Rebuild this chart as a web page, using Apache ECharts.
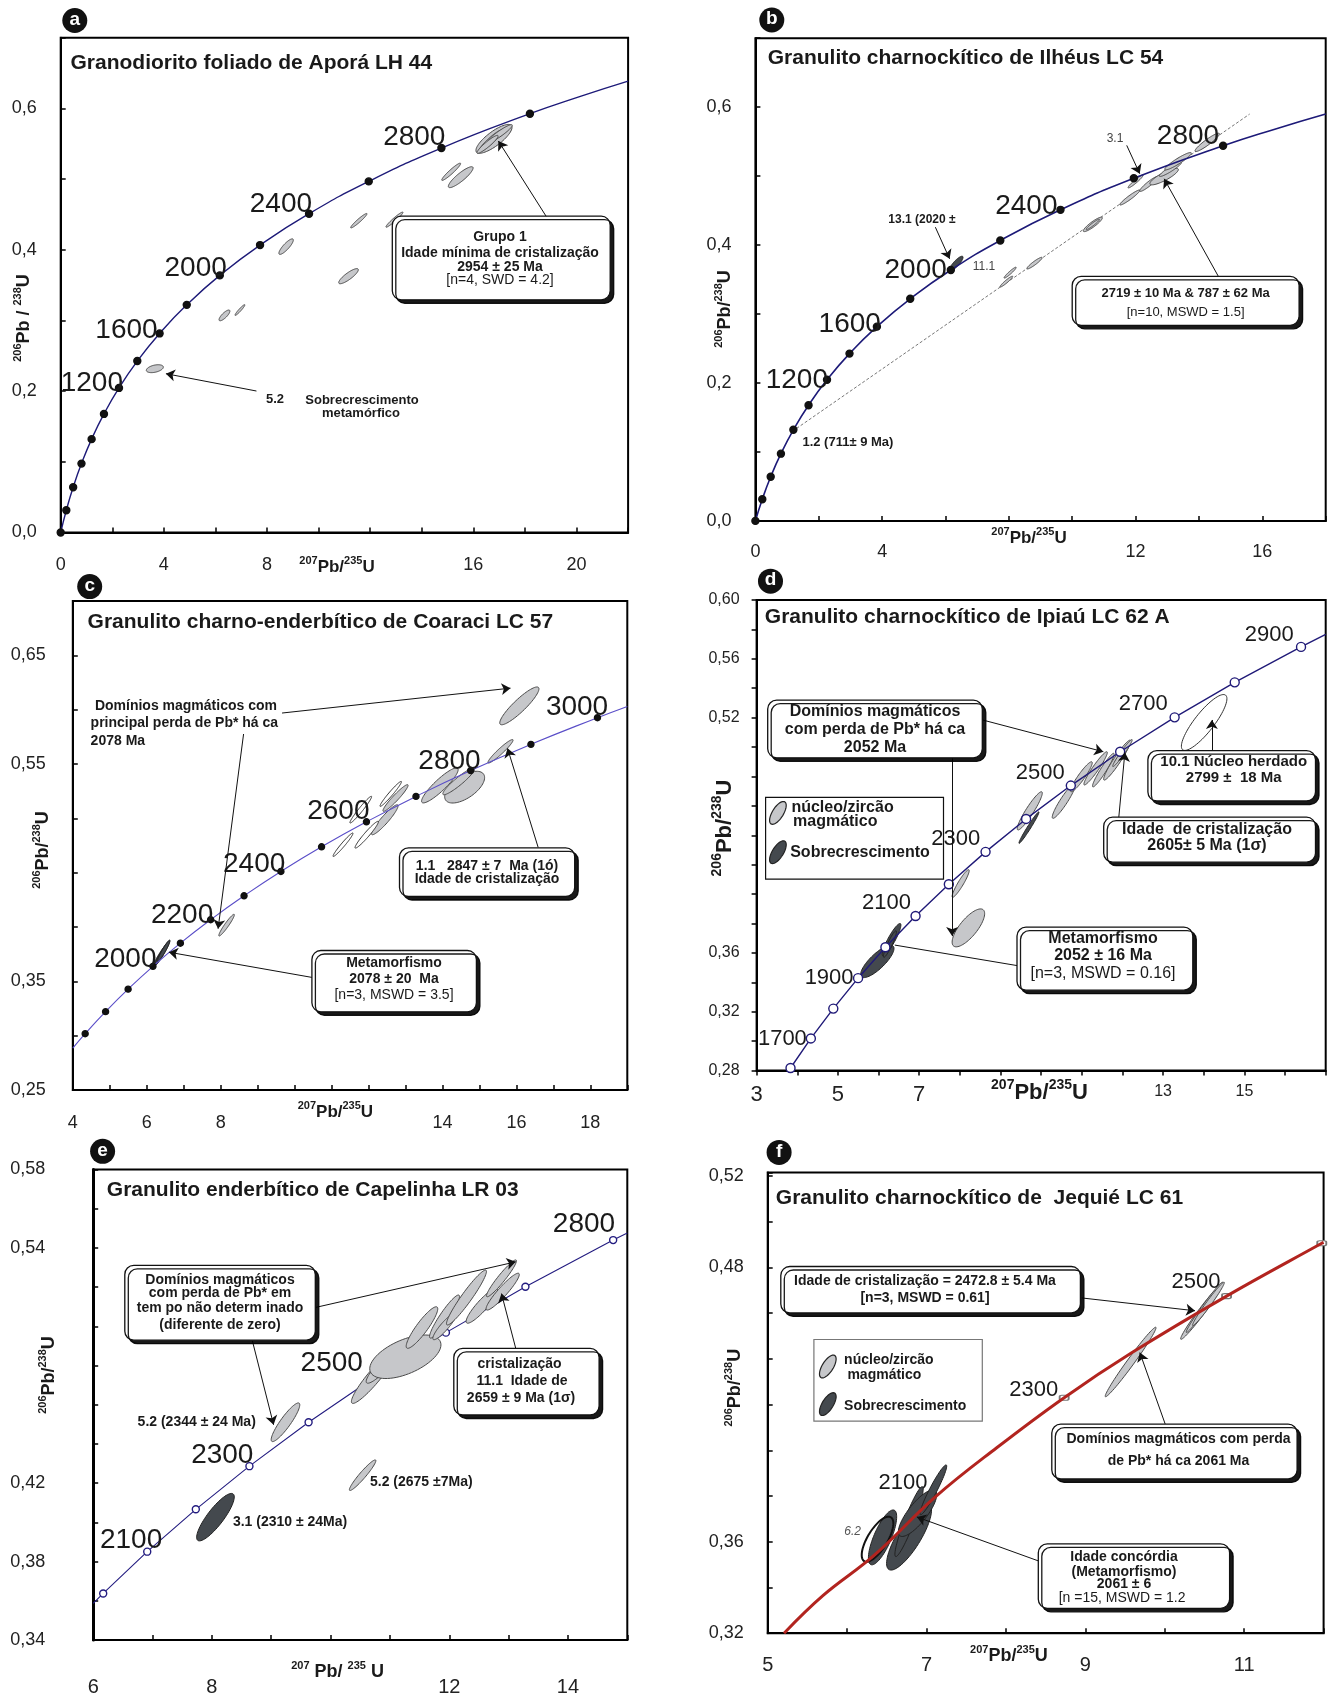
<!DOCTYPE html>
<html>
<head>
<meta charset="utf-8">
<title>Diagramas concórdia U-Pb</title>
<script src="https://cdn.jsdelivr.net/npm/echarts@6/dist/echarts.min.js"></script>
<style>
  html, body { margin: 0; padding: 0; background: #fff; }
  #chart { width: 1331px; height: 1697px; }
</style>
</head>
<body>
<div id="chart"></div>
<script>
const FONT = '"Liberation Sans", Arial, Helvetica, sans-serif';

// ---------------- data ----------------
// concordia marks: [207Pb/235U, 206Pb/238U] at the ages drawn on each diagram
// ellipses: [207Pb/235U, 206Pb/238U, half range x, half range y, rho]

// a - Granodiorito foliado de Aporá LH 44
const ageA = [0, 200, 400, 600, 800, 1000, 1200, 1400, 1600, 1800, 2000, 2200, 2400, 2600, 2800, 3000];
const markA = [[0, 0], [0.2177, 0.0315], [0.4828, 0.0640], [0.8056, 0.0975], [1.1987, 0.1321], [1.6774, 0.1678], [2.2603, 0.2046], [2.9701, 0.2426], [3.8345, 0.2817], [4.8869, 0.3221], [6.1685, 0.3638], [7.7292, 0.4067], [9.6295, 0.4511], [11.9436, 0.4968], [14.7617, 0.5440], [18.1931, 0.5926]];
const extA = [[20.1795, 0.6175], [22.0, 0.6387]];
const namedA = [1200, 1600, 2000, 2400, 2800];
const grainsA = [[16.80, 0.557, 0.70, 0.0204, 0.80], [16.67, 0.5543, 0.456, 0.0153, 0.93], [17.03, 0.5644, 0.48, 0.0127, 0.93], [16.55, 0.5492, 0.41, 0.0127, 0.93],
  [15.14, 0.5104, 0.365, 0.0122, 0.95], [15.51, 0.5028, 0.48, 0.0148, 0.88], [11.56, 0.4412, 0.315, 0.0102, 0.955], [12.94, 0.4427, 0.33, 0.0107, 0.96],
  [8.74, 0.4045, 0.28, 0.011, 0.85], [11.16, 0.3627, 0.38, 0.0107, 0.85], [6.35, 0.3072, 0.21, 0.0076, 0.8], [6.95, 0.3148, 0.19, 0.0076, 0.95], [3.65, 0.2318, 0.33, 0.0056, 0.4]];

// b - Granulito charnockítico de Ilhéus LC 54
const ageB = [0, 200, 400, 600, 800, 1000, 1200, 1400, 1600, 1800, 2000, 2200, 2400, 2600, 2800];
const markB = [[0, 0], [0.2177, 0.0315], [0.4828, 0.0640], [0.8056, 0.0975], [1.1987, 0.1321], [1.6774, 0.1678], [2.2603, 0.2046], [2.9701, 0.2426], [3.8345, 0.2817], [4.8869, 0.3221], [6.1685, 0.3638], [7.7292, 0.4067], [9.6295, 0.4511], [11.9436, 0.4968], [14.7617, 0.5440]];
const extB = [[16.393, 0.5681], [18.0, 0.5901]];
const namedB = [1200, 1600, 2000, 2400, 2800];
const discordB = [[1.17, 0.130], [15.6, 0.590]];
const grainsB = [[7.92, 0.347, 0.20, 0.0079, 0.95], [8.04, 0.360, 0.19, 0.0079, 0.95], [8.81, 0.3738, 0.24, 0.0084, 0.93], [10.65, 0.430, 0.30, 0.0105, 0.9], [10.65, 0.430, 0.21, 0.0075, 0.95],
  [11.82, 0.469, 0.316, 0.0109, 0.95], [12.0, 0.4923, 0.237, 0.0094, 0.95], [12.42, 0.4887, 0.29, 0.0109, 0.93], [12.90, 0.4993, 0.45, 0.012, 0.85], [13.10, 0.510, 0.35, 0.0105, 0.93],
  [13.34, 0.5216, 0.42, 0.0126, 0.93], [14.26, 0.5489, 0.385, 0.0133, 0.93]];
const rimB = [[6.34, 0.3733, 0.213, 0.0105, 0.85]];

// c - Granulito charno-enderbítico de Coaraci LC 57
const ageC = [1700, 1800, 1900, 2000, 2100, 2200, 2300, 2400, 2500, 2600, 2700, 2800, 2900, 3000];
const markC = [[4.3348, 0.3018], [4.8869, 0.3221], [5.4962, 0.3428], [6.1685, 0.3638], [6.9105, 0.3851], [7.7292, 0.4067], [8.6326, 0.4287], [9.6295, 0.4511], [10.7296, 0.4738], [11.9436, 0.4968], [13.2833, 0.5202], [14.7617, 0.5440], [16.393, 0.5681], [18.1931, 0.5926]];
const extC = [[4.0, 0.2885], [19.0, 0.6030]];
const namedC = [2000, 2200, 2400, 2600, 2800, 3000];
const grainsC = [[8.16, 0.4017, 0.21, 0.010, 0.95], [12.44, 0.4987, 0.36, 0.0138, 0.93], [12.73, 0.5187, 0.34, 0.0123, 0.95], [13.93, 0.5303, 0.495, 0.0161, 0.9],
  [14.60, 0.5287, 0.54, 0.0146, 0.6], [14.44, 0.534, 0.43, 0.0123, 0.93], [15.57, 0.5617, 0.34, 0.0108, 0.95], [16.08, 0.6035, 0.53, 0.0174, 0.9]];
const openC = [[11.31, 0.4757, 0.27, 0.0108, 0.97], [11.79, 0.508, 0.293, 0.0123, 0.97], [11.95, 0.4849, 0.315, 0.0123, 0.96], [12.60, 0.5225, 0.29, 0.0115, 0.97]];
const rimC = [[6.36, 0.3735, 0.2, 0.011, 0.96], [6.42, 0.376, 0.2, 0.0115, 0.96], [6.46, 0.378, 0.17, 0.010, 0.95]];

// d - Granulito charnockítico de Ipiaú LC 62 A
const ageD = [1600, 1700, 1800, 1900, 2000, 2100, 2200, 2300, 2400, 2500, 2600, 2700, 2800, 2900];
const markD = [[3.8345, 0.2817], [4.3348, 0.3018], [4.8869, 0.3221], [5.4962, 0.3428], [6.1685, 0.3638], [6.9105, 0.3851], [7.7292, 0.4067], [8.6326, 0.4287], [9.6295, 0.4511], [10.7296, 0.4738], [11.9436, 0.4968], [13.2833, 0.5202], [14.7617, 0.5440], [16.393, 0.5681]];
const extD = [[17.0, 0.5766]];
const namedD = [1700, 1900, 2100, 2300, 2500, 2700, 2900];
const grainsD = [[8.02, 0.4072, 0.21, 0.0094, 0.93], [8.21, 0.377, 0.40, 0.0129, 0.75], [9.72, 0.4566, 0.308, 0.013, 0.93], [10.56, 0.4634, 0.287, 0.0119, 0.93],
  [10.99, 0.4798, 0.267, 0.0102, 0.93], [11.34, 0.4855, 0.288, 0.0113, 0.95], [11.53, 0.4843, 0.266, 0.0114, 0.95], [11.87, 0.4911, 0.333, 0.0136, 0.95], [12.0, 0.4959, 0.24, 0.0092, 0.97]];
const rimD = [[5.97, 0.3542, 0.41, 0.011, 0.8], [6.32, 0.369, 0.23, 0.011, 0.9], [6.28, 0.366, 0.16, 0.009, 0.92], [9.70, 0.4452, 0.246, 0.0107, 0.98]];
const openD = [[14.01, 0.5167, 0.56, 0.019, 0.85]];

// e - Granulito enderbítico de Capelinha LR 03
const ageE = [2000, 2100, 2200, 2300, 2400, 2500, 2600, 2700, 2800];
const markE = [[6.1685, 0.3638], [6.9105, 0.3851], [7.7292, 0.4067], [8.6326, 0.4287], [9.6295, 0.4511], [10.7296, 0.4738], [11.9436, 0.4968], [13.2833, 0.5202], [14.7617, 0.5440]];
const extE = [[6.0, 0.3587], [15.0, 0.5476]];
const namedE = [2100, 2300, 2500, 2800];
const grainsE = [[9.24, 0.4511, 0.241, 0.00986, 0.9], [10.54, 0.4241, 0.223, 0.0078, 0.95], [10.73, 0.4743, 0.379, 0.0136, 0.93], [10.88, 0.4799, 0.28, 0.0089, 0.9],
  [11.26, 0.4845, 0.60, 0.0111, 0.55], [11.54, 0.4994, 0.266, 0.0106, 0.9], [11.92, 0.505, 0.2525, 0.011, 0.93], [11.92, 0.500, 0.197, 0.0068, 0.9],
  [12.29, 0.5147, 0.337, 0.014, 0.95], [12.55, 0.5105, 0.266, 0.0089, 0.9], [12.90, 0.5177, 0.28, 0.0094, 0.93], [12.88, 0.5245, 0.2525, 0.0094, 0.95]];
const rimE = [[8.06, 0.4027, 0.317, 0.0121, 0.85]];

// f - Granulito charnockítico de Jequié LC 61
const ageF = [2100, 2300, 2500, 2600];
const markF = [[7.0, 0.376], [8.733, 0.423], [10.778, 0.4674], [11.977, 0.4905]];
const traceF = [[5.206, 0.32], [5.695, 0.3364], [6.339, 0.354], [7.111, 0.3796], [7.884, 0.4011], [8.733, 0.423], [9.583, 0.4426], [10.778, 0.4674], [11.977, 0.4905], [12.0, 0.4909]];
const namedF = [2100, 2300, 2500];
const grainsF = [[9.57, 0.4386, 0.32, 0.0152, 0.985], [10.46, 0.4605, 0.26, 0.012, 0.98], [10.50, 0.4625, 0.23, 0.011, 0.985], [10.55, 0.464, 0.20, 0.0095, 0.98]];
const rimF = [[6.78, 0.3622, 0.283, 0.0146, 0.8], [6.446, 0.3619, 0.178, 0.012, 0.75], [6.78, 0.3688, 0.178, 0.0153, 0.93], [6.887, 0.3725, 0.242, 0.0102, 0.8], [7.086, 0.3827, 0.168, 0.0109, 0.95]];
const openF = [[6.383, 0.3611, 0.199, 0.00985, 0.7]];

// ---------------- layout ----------------
const panels = [
  { grid: { left: 60.7, top: 37.8, width: 567.4, height: 494.7 },
    x: { min: 0, max: 22, interval: 2, show: [0, 4, 8, 16, 20], dec: 0, margin: 24, size: 18 },
    y: { min: 0, max: 0.7, interval: 0.1, show: [0, 0.2, 0.4, 0.6], dec: 1, margin: 24, size: 18 },
    ages: ageA, marks: markA, curve: markA.concat(extA), named: namedA, smooth: 0.5,
    off: { 1200: [4, -5], 1600: [-2, -3], 2000: [7, -7], 2400: [3, -9], 2800: [4, -11] },
    lc: '#1d1a78', lw: 1.4, ageSize: 28, mk: { symbol: 'circle', size: 7, fill: '#111', stroke: '#111' },
    light: grainsA, dark: [], open: [], lineZ: 3, markZ: 4,
    arrows: [[[18.87, 0.4447], [16.97, 0.554]], [[7.59, 0.2002], [4.08, 0.2247]]], plain: [] },
  { grid: { left: 755.4, top: 38.2, width: 570.3, height: 482.7 },
    x: { min: 0, max: 18, interval: 2, show: [0, 4, 12, 16], dec: 0, margin: 22, size: 18 },
    y: { min: 0, max: 0.7, interval: 0.1, show: [0, 0.2, 0.4, 0.6], dec: 1, margin: 24, size: 18 },
    ages: ageB, marks: markB, curve: markB.concat(extB), named: namedB, smooth: 0.5,
    off: { 1200: [1, 0], 1600: [4, -2], 2000: [-4, 0], 2400: [-3, -4], 2800: [-4, -9] },
    lc: '#1d1a78', lw: 1.6, ageSize: 28, mk: { symbol: 'circle', size: 7, fill: '#111', stroke: '#111' },
    light: grainsB, dark: rimB, open: [], lineZ: 3, markZ: 4,
    arrows: [[[5.68, 0.4259], [6.13, 0.38]], [[11.72, 0.5446], [12.13, 0.5035]], [[14.61, 0.3548], [12.9, 0.4961]]], plain: [] },
  { grid: { left: 72.8, top: 601, width: 554.5, height: 489 },
    x: { min: 4, max: 19, interval: 1, show: [4, 6, 8, 14, 16, 18], dec: 0, margin: 24, size: 18 },
    y: { min: 0.25, max: 0.70, interval: 0.05, show: [0.25, 0.35, 0.55, 0.65], dec: 2, margin: 27, size: 18 },
    ages: ageC, marks: markC, curve: [extC[0]].concat(markC, [extC[1]]), named: namedC, smooth: 0.5,
    off: { 2000: [3.5, -6.6], 2200: [2.6, -4.7], 2400: [4.4, -7], 2600: [3, -10.8], 2800: [10, -9.3], 3000: [10.7, -10.8] },
    lc: '#5a4ec8', lw: 1.1, ageSize: 28, mk: { symbol: 'circle', size: 6, fill: '#111', stroke: '#111' },
    light: grainsC, dark: rimC, open: openC, lineZ: 3, markZ: 4,
    arrows: [[[9.66, 0.5969], [15.84, 0.6198]], [[8.62, 0.5776], [7.93, 0.3984]], [[16.59, 0.4731], [15.76, 0.5644]], [[10.47, 0.3536], [6.60, 0.3768]]], plain: [] },
  { grid: { left: 756.6, top: 600, width: 569.1, height: 470.5 },
    x: { min: 3, max: 17, interval: 1, show: [3, 5, 7, 13, 15], dec: 0, margin: 13, size: 22, small: [13, 15] },
    y: { min: 0.28, max: 0.60, interval: 0.02, show: [0.28, 0.32, 0.36, 0.52, 0.56, 0.60], dec: 2, margin: 17, size: 16 },
    ticksOut: true,
    ages: ageD, marks: markD, curve: markD.concat(extD), named: namedD, smooth: false,
    off: { 1700: [-4, 0], 1900: [-4.5, 0], 2100: [-4.5, -13.3], 2300: [-5.4, -13.3], 2500: [-6, -12.2], 2700: [-7, -13], 2900: [-7.4, -11.5] },
    lc: '#201a78', lw: 1.4, ageSize: 22, mk: { symbol: 'circle', size: 9, fill: '#fff', stroke: '#201a78' },
    light: grainsD, dark: rimD, open: openD, lineZ: 3, markZ: 4,
    arrows: [[[8.56, 0.5184], [11.53, 0.4968]], [[7.81, 0.4927], [7.81, 0.3714]], [[14.2, 0.4976], [14.2, 0.5184]], [[11.91, 0.4522], [12.06, 0.4963]]],
    plain: [[[9.42, 0.3513], [6.40, 0.3653]]] },
  { grid: { left: 93.2, top: 1169.5, width: 534.1, height: 470.6 },
    x: { min: 6, max: 15, interval: 1, show: [6, 8, 12, 14], dec: 0, margin: 37, size: 20 },
    y: { min: 0.34, max: 0.58, interval: 0.02, show: [0.34, 0.38, 0.42, 0.54, 0.58], dec: 2, margin: 48, size: 18 },
    axisW: 3,
    ages: ageE, marks: markE, curve: [extE[0]].concat(markE, [extE[1]]), named: namedE, smooth: false,
    off: { 2100: [15, -11], 2300: [4, -11], 2500: [-11, -14], 2800: [2, -16] },
    lc: '#231c80', lw: 1.1, ageSize: 28, mk: { symbol: 'circle', size: 7, fill: '#fff', stroke: '#231c80' },
    light: grainsE, dark: rimE, open: [], lineZ: 1, markZ: 1,
    arrows: [[[9.74, 0.5096], [13.12, 0.5329]], [[8.68, 0.4929], [9.04, 0.4498]], [[13.12, 0.4888], [12.88, 0.5167]]], plain: [] },
  { grid: { left: 767.7, top: 1172.4, width: 555.9, height: 460.8 },
    x: { min: 5, max: 12, interval: 1, show: [5, 7, 9, 11], dec: 0, margin: 22, size: 20 },
    y: { min: 0.32, max: 0.5215, interval: 0.02, show: [0.32, 0.36, 0.48, 0.52], dec: 2, margin: 24, size: 18 },
    ages: ageF, marks: markF, curve: traceF, named: namedF, smooth: 0.4,
    off: { 2100: [1, -22], 2300: [-6, -8], 2500: [-6, -14] },
    lc: '#b2241f', lw: 3, ageSize: 22, mk: { symbol: 'roundRect', size: [9, 5], fill: '#fff', stroke: '#777' },
    light: grainsF, dark: rimF, open: [], blackOpen: openF, lineZ: 3, markZ: 1,
    arrows: [[[8.955, 0.4666], [10.381, 0.4610]], [[10.005, 0.4115], [9.686, 0.4427]], [[8.409, 0.3516], [6.879, 0.3708]]], plain: [] }
];

// ---------------- helpers ----------------
function labeler(show, dec, small) {
  return function (v) {
    const r = Math.round(v * 1000) / 1000;
    if (!show.some(s => Math.abs(s - r) < 1e-6)) return '';
    const s = r.toFixed(dec).replace('.', ',');
    if (small) return small.some(q => Math.abs(q - r) < 1e-6) ? '{s|' + s + '}' : '{b|' + s + '}';
    return s;
  };
}

function ellipseRender(fill, stroke, lw) {
  return function (params, api) {
    const cx = api.value(0), cy = api.value(1), hx = api.value(2), hy = api.value(3), r = api.value(4);
    const s = Math.sqrt(1 - r * r);
    const pts = [];
    for (let k = 0; k < 72; k++) {
      const t = k / 72 * Math.PI * 2;
      const u = Math.cos(t), v = Math.sin(t);
      pts.push(api.coord([cx + hx * u, cy + hy * (r * u + s * v)]));
    }
    return { type: 'polygon', shape: { points: pts }, style: { fill: fill, stroke: stroke, lineWidth: lw } };
  };
}

const grids = [], xAxes = [], yAxes = [], series = [];

panels.forEach(function (p, i) {
  const aw = p.axisW || 2;
  grids.push(Object.assign({ show: true, borderColor: '#000', borderWidth: 2, containLabel: false, outerBoundsMode: 'none' }, p.grid));
  const xl = { formatter: labeler(p.x.show, p.x.dec, p.x.small), margin: p.x.margin, color: '#222', fontSize: p.x.size, fontFamily: FONT, showMinLabel: true, showMaxLabel: true };
  if (p.x.small) xl.rich = { b: { fontSize: 22, fontFamily: FONT, color: '#222' }, s: { fontSize: 16, fontFamily: FONT, color: '#222' } };
  xAxes.push({ type: 'value', gridIndex: i, min: p.x.min, max: p.x.max, interval: p.x.interval,
    axisLine: { show: true, onZero: false, lineStyle: { color: '#000', width: 2 } },
    axisTick: { show: true, inside: !p.ticksOut, length: 5, lineStyle: { color: '#000', width: 1.5 } },
    axisLabel: xl, splitLine: { show: false } });
  yAxes.push({ type: 'value', gridIndex: i, min: p.y.min, max: p.y.max, interval: p.y.interval,
    axisLine: { show: true, onZero: false, lineStyle: { color: '#000', width: aw } },
    axisTick: { show: true, inside: !p.ticksOut, length: 5, lineStyle: { color: '#000', width: 1.5 } },
    axisLabel: { formatter: labeler(p.y.show, p.y.dec), margin: p.y.margin, color: '#222', fontSize: p.y.size, fontFamily: FONT, showMinLabel: true, showMaxLabel: true },
    splitLine: { show: false } });

  const ml = p.arrows.map(a => [{ coord: a[0], symbol: 'none' }, { coord: a[1], symbol: 'arrow' }])
    .concat(p.plain.map(a => [{ coord: a[0], symbol: 'none' }, { coord: a[1], symbol: 'none' }]));

  series.push({ type: 'line', xAxisIndex: i, yAxisIndex: i, data: p.curve, showSymbol: false, symbol: 'none',
    smooth: p.smooth, lineStyle: { color: p.lc, width: p.lw }, z: p.lineZ, silent: true,
    markLine: { silent: true, symbol: ['none', 'arrow'], symbolSize: 9, label: { show: false },
      lineStyle: { color: '#111', width: 1, type: 'solid' }, emphasis: { disabled: true }, data: ml } });

  if (i === 1) {
    series.push({ type: 'line', xAxisIndex: i, yAxisIndex: i, data: discordB, showSymbol: false, symbol: 'none',
      lineStyle: { color: '#777', width: 1, type: [3, 2] }, z: 1, silent: true });
  }

  const groups = [[p.light, '#c6c7ca', '#4a4a4a', 1], [p.open, '#ffffff', '#333', 1], [p.dark, '#44494e', '#222', 1]];
  if (p.blackOpen) groups.push([p.blackOpen, 'rgba(0,0,0,0)', '#111', 2]);
  groups.forEach(function (g) {
    if (!g[0].length) return;
    series.push({ type: 'custom', xAxisIndex: i, yAxisIndex: i, data: g[0], clip: false, silent: true, z: 2,
      renderItem: ellipseRender(g[1], g[2], g[3]) });
  });

  series.push({ type: 'scatter', xAxisIndex: i, yAxisIndex: i, z: p.markZ, silent: true,
    symbol: p.mk.symbol, symbolSize: p.mk.size,
    itemStyle: { color: p.mk.fill, borderColor: p.mk.stroke, borderWidth: 1.4, opacity: 1 },
    label: { show: false, position: 'inside', align: 'right', verticalAlign: 'middle', fontSize: p.ageSize, color: '#1a1a1a', fontFamily: FONT },
    data: p.ages.map(function (t, k) {
      const named = p.named.indexOf(t) >= 0;
      return { value: p.marks[k], label: named ? { show: true, formatter: String(t), offset: p.off[t] } : { show: false } };
    }) });
});

// ---------------- annotations ----------------
const G = [];
function T(x, y, text, size, o) {
  o = o || {};
  const al = o.align || 'center';
  G.push({ type: 'text', x: x, y: y, z: 100, silent: true,
    style: { text: text, fill: o.color || '#1a1a1a',
      font: (o.italic ? 'italic ' : '') + (o.normal ? 'normal ' : 'bold ') + size + 'px ' + FONT,
      align: al, verticalAlign: 'middle', textAlign: al, textVerticalAlign: 'middle' } });
}
function iso(x, y, parts, size, vertical) {
  let text = '';
  parts.forEach(function (q) { text += '{s|' + q[0] + '}{m|' + q[1] + '}'; });
  G.push({ type: 'text', x: x, y: y, z: 100, silent: true, rotation: vertical ? Math.PI / 2 : 0,
    style: { text: text, align: 'center', verticalAlign: 'middle', textAlign: 'center', textVerticalAlign: 'middle',
      rich: { s: { fontSize: Math.round(size * 0.62), fontWeight: 'bold', fontFamily: FONT, fill: '#1a1a1a', verticalAlign: 'top', lineHeight: Math.round(size * 0.75) },
              m: { fontSize: size, fontWeight: 'bold', fontFamily: FONT, fill: '#1a1a1a', lineHeight: Math.round(size * 1.35) } } } });
}
function B(x1, y1, x2, y2) {
  G.push({ type: 'rect', z: 95, silent: true, shape: { x: x1, y: y1, width: x2 - x1, height: y2 - y1, r: 9 },
    style: { fill: '#fff', stroke: '#111', lineWidth: 1.3, shadowColor: 'rgba(0,0,0,0.9)', shadowOffsetX: 3.5, shadowOffsetY: 3.5, shadowBlur: 0.5 } });
}
function frame(x1, y1, x2, y2, col) {
  // legend frame sits under the series so concordia labels stay readable over it
  G.push({ type: 'rect', z: 0, silent: true, shape: { x: x1, y: y1, width: x2 - x1, height: y2 - y1 },
    style: { fill: '#fff', stroke: col, lineWidth: 1.2 } });
}
function badge(x, y, ch) {
  G.push({ type: 'circle', z: 100, silent: true, shape: { cx: x, cy: y, r: 12.5 }, style: { fill: '#111' } });
  T(x, y - 1, ch, 19, { color: '#fff' });
}
function sample(cx, cy, dark) {
  const pts = [], a = 13, b = 5.5, ang = -58 * Math.PI / 180;
  for (let k = 0; k < 48; k++) {
    const t = k / 48 * Math.PI * 2, u = a * Math.cos(t), v = b * Math.sin(t);
    pts.push([cx + u * Math.cos(ang) - v * Math.sin(ang), cy + u * Math.sin(ang) + v * Math.cos(ang)]);
  }
  G.push({ type: 'polygon', z: 101, silent: true, shape: { points: pts }, style: { fill: dark ? '#44494e' : '#c6c7ca', stroke: '#222', lineWidth: 1.2 } });
}

// a
badge(74.8, 20.5, 'a');
T(70.5, 63, 'Granodiorito foliado de Aporá LH 44', 21, { align: 'left' });
iso(24, 318, [['206', 'Pb / '], ['238', 'U']], 18, true);
iso(337, 567, [['207', 'Pb/'], ['235', 'U']], 17);
B(392.3, 216.2, 610.2, 299.8);
T(500, 236.7, 'Grupo 1', 14);
T(500, 253.5, 'Idade mínima de cristalização', 14);
T(500, 267, '2954 ± 25 Ma', 14);
T(500, 280.5, '[n=4, SWD = 4.2]', 14, { normal: true });
T(275, 399, '5.2', 13);
T(362, 400, 'Sobrecrescimento', 13);
T(361, 413, 'metamórfico', 13);

// b
badge(771.8, 20, 'b');
T(767.7, 58.2, 'Granulito charnockítico de Ilhéus LC 54', 21, { align: 'left' });
iso(725, 309, [['206', 'Pb/'], ['238', 'U']], 18, true);
iso(1029, 538, [['207', 'Pb/'], ['235', 'U']], 17);
B(1072.2, 276.3, 1299.1, 325.3);
T(1185.6, 293, '2719 ± 10 Ma & 787 ± 62 Ma', 13);
T(1185.6, 312, '[n=10, MSWD = 1.5]', 13, { normal: true });
T(888.3, 220, '13.1 (2020 ±', 12, { align: 'left' });
T(984, 267, '11.1', 12, { normal: true, color: '#444' });
T(1115, 139, '3.1', 12, { normal: true, color: '#444' });
T(802.4, 442.7, '1.2 (711± 9 Ma)', 13, { align: 'left' });

// c
badge(89.7, 586.6, 'c');
T(87.6, 622.6, 'Granulito charno-enderbítico de Coaraci LC 57', 21, { align: 'left' });
iso(43, 850, [['206', 'Pb/'], ['238', 'U']], 18, true);
iso(335.4, 1112, [['207', 'Pb/'], ['235', 'U']], 17);
T(94.9, 706.2, 'Domínios magmáticos com', 14, { align: 'left' });
T(90.6, 723.5, 'principal perda de Pb* há ca', 14, { align: 'left' });
T(90.6, 740.8, '2078 Ma', 14, { align: 'left' });
B(399.5, 847.8, 574.7, 896.5);
T(487, 865.9, '1.1   2847 ± 7  Ma (1ó)', 14);
T(487, 879.5, 'Idade de cristalização', 14);
B(311.9, 950.5, 476.4, 1011.8);
T(394, 963.1, 'Metamorfismo', 14);
T(394, 979.3, '2078 ± 20  Ma', 14);
T(394, 995.6, '[n=3, MSWD = 3.5]', 14, { normal: true });

// d
badge(770.5, 581.2, 'd');
T(764.8, 617.2, 'Granulito charnockítico de Ipiaú LC 62 A', 21, { align: 'left' });
iso(724.7, 828, [['206', 'Pb/'], ['238', 'U']], 22, true);
iso(1039.5, 1093, [['207', 'Pb/'], ['235', 'U']], 22);
B(767.7, 700.1, 982.3, 757.8);
T(875, 712, 'Domínios magmáticos', 16);
T(875, 730, 'com perda de Pb* há ca', 16);
T(875, 748, '2052 Ma', 16);
B(1147.9, 750.6, 1315.5, 801);
T(1233.7, 761.4, '10.1 Núcleo herdado', 15);
T(1233.7, 778.3, '2799 ±  18 Ma', 15);
B(1103.7, 817.2, 1315.5, 862.2);
T(1207, 829.1, 'Idade  de cristalização', 16);
T(1207, 845.3, '2605± 5 Ma (1σ)', 16);
B(1017, 927.1, 1192.8, 990.2);
T(1103, 938.6, 'Metamorfismo', 16);
T(1103, 955.9, '2052 ± 16 Ma', 16);
T(1103, 973.2, '[n=3, MSWD = 0.16]', 16, { normal: true });
frame(765.6, 797.4, 943.5, 879.2, '#111');
sample(777.9, 812.9, false);
sample(777.9, 852.2, true);
T(791.4, 807.1, 'núcleo/zircão', 16, { align: 'left' });
T(793, 821.5, 'magmático', 16, { align: 'left' });
T(790.2, 852.2, 'Sobrecrescimento', 16, { align: 'left' });

// e
badge(102.6, 1151.3, 'e');
T(106.8, 1190.7, 'Granulito enderbítico de Capelinha LR 03', 21, { align: 'left' });
iso(49, 1375, [['206', 'Pb/'], ['238', 'U']], 18, true);
iso(337.6, 1672, [['207', ' Pb/ '], ['235', ' U']], 18);
B(124.8, 1265.4, 315.3, 1340.2);
T(220, 1280, 'Domínios magmáticos', 14);
T(220, 1293.5, 'com perda de Pb* em', 14);
T(220, 1308.5, 'tem po não determ inado', 14);
T(220, 1325, '(diferente de zero)', 14);
B(453.8, 1348.3, 599.1, 1415);
T(519.6, 1364, 'cristalização', 14);
T(522, 1381.5, '11.1  Idade de', 14);
T(521, 1398.6, '2659 ± 9 Ma (1σ)', 14);
T(137.6, 1422.3, '5.2 (2344 ± 24 Ma)', 14, { align: 'left' });
T(370, 1482.5, '5.2 (2675 ±7Ma)', 14, { align: 'left' });
T(232.9, 1522.6, '3.1 (2310 ± 24Ma)', 14, { align: 'left' });

// f
badge(779.1, 1152.4, 'f');
T(775.8, 1198, 'Granulito charnockítico de  Jequié LC 61', 21, { align: 'left' });
iso(735, 1387.7, [['206', 'Pb/'], ['238', 'U']], 18, true);
iso(1008.9, 1656, [['207', 'Pb/'], ['235', 'U']], 18);
B(780.8, 1266.5, 1080.4, 1312.9);
T(925, 1280.8, 'Idade de cristalização = 2472.8 ± 5.4 Ma', 14);
T(925, 1298.3, '[n=3, MSWD = 0.61]', 14);
B(1051.8, 1424.1, 1297.1, 1478.9);
T(1178.5, 1439.5, 'Domínios magmáticos com perda', 14);
T(1178.5, 1461.3, 'de Pb* há ca 2061 Ma', 14);
B(1038.3, 1543.8, 1229.6, 1608.3);
T(1124, 1557.3, 'Idade concórdia', 14);
T(1124, 1571.9, '(Metamorfismo)', 14);
T(1124, 1584.6, '2061 ± 6', 14);
T(1058.7, 1598.5, '[n =15, MSWD = 1.2', 14, { align: 'left', normal: true });
frame(813.9, 1339.5, 982.3, 1421.2, '#777');
sample(827.8, 1366.5, false);
sample(827.8, 1404.1, true);
T(844.1, 1360.3, 'núcleo/zircão', 14, { align: 'left' });
T(847.4, 1374.9, 'magmático', 14, { align: 'left' });
T(844.1, 1406.6, 'Sobrecrescimento', 14, { align: 'left' });
T(852.7, 1531.7, '6.2', 12, { italic: true, normal: true, color: '#555' });

const chart = echarts.init(document.getElementById('chart'));
chart.setOption({
  animation: false,
  backgroundColor: '#fff',
  grid: grids,
  xAxis: xAxes,
  yAxis: yAxes,
  series: series,
  graphic: { elements: G }
});
window.addEventListener('resize', function () { chart.resize(); });
</script>
</body>
</html>
